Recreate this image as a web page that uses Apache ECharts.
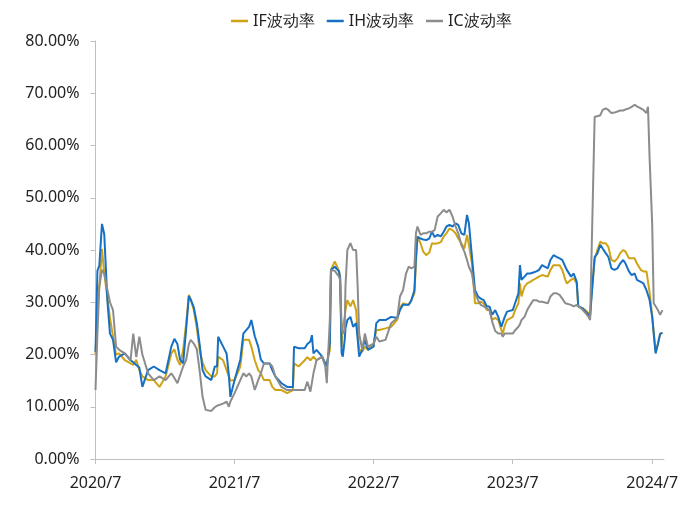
<!DOCTYPE html>
<html>
<head>
<meta charset="utf-8">
<script src="https://cdn.jsdelivr.net/npm/echarts@6/dist/echarts.min.js"></script>
<style>html,body{margin:0;padding:0;background:#fff;}#c{width:700px;height:513px;}</style>
</head>
<body>
<div id="c"></div>
<script>
const seriesNames = ['IF波动率', 'IH波动率', 'IC波动率'];
const xTickLabels = ['2020-07-01', '2021-07-01', '2022-07-01', '2023-07-01', '2024-07-01'];
const xRange = ['2020-07-01', '2024-08-01'];
const dates = [
'2020-07-01','2020-07-06','2020-07-11','2020-07-18','2020-07-24','2020-08-01','2020-08-08','2020-08-16','2020-08-24','2020-09-01',
'2020-09-16','2020-10-01','2020-10-08','2020-10-16','2020-10-24','2020-11-01','2020-11-16','2020-12-01','2020-12-16','2021-01-01',
'2021-01-16','2021-01-24','2021-02-01','2021-02-08','2021-02-16','2021-02-24','2021-03-03','2021-03-08','2021-03-16','2021-03-24',
'2021-04-01','2021-04-08','2021-04-16','2021-05-01','2021-05-10','2021-05-16','2021-05-19','2021-06-01','2021-06-10','2021-06-16',
'2021-06-20','2021-07-01','2021-07-16','2021-07-24','2021-08-01','2021-08-08','2021-08-14','2021-08-23','2021-09-01','2021-09-08',
'2021-09-16','2021-10-01','2021-10-08','2021-10-16','2021-11-01','2021-11-16','2021-12-01','2021-12-04','2021-12-16','2022-01-01',
'2022-01-08','2022-01-16','2022-01-20','2022-01-24','2022-02-01','2022-02-16','2022-02-24','2022-02-28','2022-03-02','2022-03-08',
'2022-03-11','2022-03-16','2022-03-21','2022-04-01','2022-04-04','2022-04-08','2022-04-11','2022-04-16','2022-04-18','2022-04-23',
'2022-05-01','2022-05-08','2022-05-16','2022-05-20','2022-05-24','2022-06-01','2022-06-08','2022-06-16','2022-07-01','2022-07-08',
'2022-07-16','2022-08-01','2022-08-16','2022-09-01','2022-09-08','2022-09-16','2022-09-24','2022-10-01','2022-10-08','2022-10-16',
'2022-10-20','2022-10-24','2022-11-01','2022-11-08','2022-11-16','2022-11-24','2022-12-01','2022-12-08','2022-12-16','2022-12-24',
'2023-01-01','2023-01-08','2023-01-16','2023-01-24','2023-02-01','2023-02-08','2023-02-16','2023-02-24','2023-03-03','2023-03-08',
'2023-03-16','2023-03-24','2023-04-01','2023-04-08','2023-04-16','2023-04-24','2023-05-01','2023-05-08','2023-05-16','2023-05-24',
'2023-06-01','2023-06-05','2023-06-10','2023-06-16','2023-07-01','2023-07-08','2023-07-16','2023-07-20','2023-07-24','2023-08-01',
'2023-08-08','2023-08-16','2023-08-24','2023-09-01','2023-09-08','2023-09-16','2023-10-01','2023-10-08','2023-10-16','2023-10-24',
'2023-11-01','2023-11-08','2023-11-16','2023-11-20','2023-12-01','2023-12-08','2023-12-16','2023-12-20','2024-01-01','2024-01-08',
'2024-01-16','2024-01-20','2024-01-24','2024-02-01','2024-02-08','2024-02-16','2024-02-22','2024-03-01','2024-03-08','2024-03-16',
'2024-03-24','2024-04-01','2024-04-08','2024-04-16','2024-04-22','2024-05-01','2024-05-08','2024-05-16','2024-05-22','2024-06-01',
'2024-06-08','2024-06-16','2024-06-20','2024-06-24','2024-07-01','2024-07-05','2024-07-10','2024-07-16','2024-07-22','2024-07-28'
];
const ifVol = [
20,28,33,40.2,35.5,31,27,23.4,20,20.2,
18.9,18.3,18,19,17,15.8,15.1,15.1,13.8,15.8,
20.2,21,19,18,20.9,26,31.4,30.5,28.5,25,
20.5,18.5,17,15.8,15.8,16.4,19.6,18.9,17,15.8,
15,15.1,17.7,22.8,22.8,22.8,21.5,18.9,17,16.4,
15.1,15.1,13.8,13.2,13.2,12.6,13.2,18.3,17.7,18.9,
19.5,18.9,19.2,19.6,18.9,19.6,18,18.5,18.9,20.9,
36.2,36.2,37.8,36,35,21.5,25.3,27.2,28.5,30.4,
29.2,30.4,28.5,24,21,20.5,21.5,20.9,22.1,24.7,
24.7,25,25.3,26.7,29,29.8,29.6,29.5,30.4,31.7,
37.4,42.6,41.3,39.7,39,39.5,41.3,41.2,41.3,41.5,
42.6,43.2,44.1,43.8,43.2,42.2,41.3,40.3,42.9,41,
37.4,29.8,29.8,30.1,29.8,28.5,28.5,26.6,27,26.6,
24.7,24,25.5,26.6,27.2,28.6,29.8,33.6,31.1,33,
33.6,33.9,34.3,34.6,34.9,35.2,34.9,36.2,37.1,37.1,
37.1,36.2,34.3,33.6,34.3,34.6,33.6,29.2,28.8,28.5,
27.9,27.5,31.7,38.1,40,41.6,41.3,41.3,40.6,38.1,
37.8,38.4,39.4,40,39.7,38.4,38.4,38.4,37.4,36.2,
35.9,35.9,35.9,32,27.5,24.3,20.5,22,24,24.1
];
const ihVol = [
20.5,36,37,45,43,30.5,24,22.8,18.5,19.6,
20.2,18.9,18.5,18,17.5,13.8,17,17.7,17,16.4,
21.5,23,22,19,18.3,25,31.2,30.5,29,26,
21.5,17,15.8,15.1,17.7,17.7,23.4,21.5,20.2,16,
11.9,15.1,19,24,24.7,25.3,26.6,23.5,21.5,19,
18.3,18.3,17,15.8,14.5,13.8,13.8,21.5,21.2,21.2,
22,22.5,23.7,20.2,20.9,19.6,18.3,17.8,17.7,22.1,
36.2,36,36.8,35.9,34.5,20.2,19.6,22.8,25,26.6,
27.2,25.3,26,23,19.6,20.9,22.8,20.9,21.5,26,
26.6,26.6,27.2,27,28.5,29.5,29.5,29.5,30.4,32.3,
38.7,42.5,42.2,42,41.9,42.2,43.5,42.5,42.9,42.6,
43.5,44.5,44.8,44.5,45.1,44.8,43.2,42.9,46.7,45.1,
38.7,32.3,31.1,30.7,30.4,29.2,29.2,27.6,28.5,27.2,
25.3,25,27.2,28.2,28.5,30,31.7,37.1,34.3,34.9,
35.5,35.5,35.7,35.9,36.2,37.1,36.5,38.1,39,38.7,
38.4,38.1,36.8,36.2,34.9,35.5,33.9,29.2,28.8,28.2,
27.6,27.2,31.1,38.7,39.3,41,40.3,39.4,38.7,36.5,
36.2,36.5,37.4,38.1,37.4,35.9,35.2,35.5,34.3,33.9,
33.6,32.3,32,30.5,27.2,24,20.2,22,24,24.1
];
const icVol = [
13.2,24,33,36.2,35.5,32.5,30,28.5,21.5,20.9,
20.2,18.9,24,19.5,23.4,20,16.4,15.1,15.8,15.1,
16.4,15.5,14.5,16,17.7,19,22,22.8,22.1,21,
16.5,11.9,9.4,9.2,9.9,10.2,10.4,10.6,11,10,
11,12.6,15.1,16.4,15.8,16.4,15.8,13.2,15.1,16.4,
18.3,18.3,17.7,15.8,13.8,13.2,13.2,13.2,13.2,13.2,
14.8,12.9,13,16.4,18.9,19.6,17.7,14.5,17.7,26.6,
36.2,36.2,36,34.9,34.3,25.3,24,24.7,33,40,
41.3,40,40,33,24,20.9,24,21.5,22.1,23.4,
22.5,22.8,26,27,31.1,32.3,35.5,36.8,36.5,36.8,
43.2,44.5,42.9,43.2,43.2,43.5,43.5,43.8,46.4,47,
47.7,47.2,47.7,46.4,44.5,43.2,41,39.7,38.1,36.8,
35.5,31.7,30.4,29.5,29.2,28.8,28.5,26.3,24.5,24,
24,23.4,24,24,24,24.7,25.3,25.8,26.6,27.2,
28.5,29.5,30.4,30.4,30.1,30.1,29.8,31.1,31.7,31.7,
31.4,30.7,29.8,29.5,29.5,29.2,29.5,29.8,28.5,27.9,
27.2,26.6,26.3,65.5,65.6,65.8,66.8,67.1,66.8,66.2,
66.3,66.5,66.7,66.7,66.9,67.1,67.4,67.8,67.5,67.1,
66.8,66.2,67.4,58,45,29.8,29.5,28.5,27.6,28.5
];
const colors = ['#CFA315', '#1670C4', '#8C8C8C'];
const valuesList = [ifVol, ihVol, icVol];

function toTs(s) { const p = s.split('-'); return Date.UTC(+p[0], +p[1] - 1, +p[2]); }
const tickTs = xTickLabels.map(toTs);

const chart = echarts.init(document.getElementById('c'));
const font = 'Noto Sans';
chart.setOption({
  animation: false,
  backgroundColor: '#fff',
  legend: {
    top: 8, left: 226,
    icon: 'rect', itemWidth: 17, itemHeight: 2.5, itemGap: 12,
    textStyle: { fontFamily: font, fontSize: 16, color: '#222' },
    data: seriesNames
  },
  grid: { left: 95.5, right: 36, top: 41, bottom: 54 },
  xAxis: {
    type: 'value',
    min: toTs(xRange[0]), max: toTs(xRange[1]),
    axisLine: { lineStyle: { color: '#BFBFBF', width: 1 } },
    axisTick: { show: true, length: 5, lineStyle: { color: '#BFBFBF' }, customValues: tickTs },
    axisLabel: {
      customValues: tickTs,
      fontFamily: font, fontSize: 16, color: '#222', margin: 16,
      formatter: function (v) { const d = new Date(v); return d.getUTCFullYear() + '/' + (d.getUTCMonth() + 1); }
    },
    splitLine: { show: false }
  },
  yAxis: {
    type: 'value', min: 0, max: 80, interval: 10,
    axisLine: { show: true, lineStyle: { color: '#BFBFBF', width: 1 } },
    axisTick: { show: true, length: 5, lineStyle: { color: '#BFBFBF' } },
    axisLabel: { fontFamily: font, fontSize: 16, color: '#222', margin: 16,
      formatter: function (v) { return v.toFixed(2) + '%'; } },
    splitLine: { show: false }
  },
  series: seriesNames.map(function (name, k) {
    return {
      name: name, type: 'line', symbol: 'none', smooth: false,
      lineStyle: { width: 2, color: colors[k] },
      itemStyle: { color: colors[k] },
      data: dates.map(function (d, i) { return [toTs(d), valuesList[k][i]]; })
    };
  })
});
</script>
</body>
</html>
